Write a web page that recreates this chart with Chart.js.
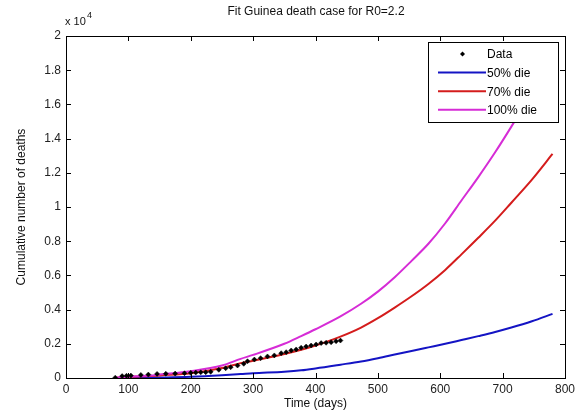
<!DOCTYPE html>
<html lang="en">

<head>
    <meta charset="UTF-8" />
    <title>Fit Guinea death case for R0=2.2</title>
    <script src="https://cdn.jsdelivr.net/npm/chart.js"></script>
    <style>
        body {
            margin: 0;
            background: #fff;
        }

        canvas {
            display: block;
        }
    </style>
</head>

<body>
    <canvas id="fitChart" width="582" height="412"></canvas>

    <script>
        const dataDays = [79, 90, 97, 104, 120, 132, 146, 160, 175, 190, 200, 208, 216, 224, 232, 245, 256, 264, 275, 285,
            291, 302, 312, 323, 334, 345, 353, 361, 369, 377, 385, 393, 401, 409, 417, 425, 433, 440];
        const dataDeaths = [20, 110, 130, 140, 180, 200, 240, 250, 260, 280, 300, 320, 330, 340, 360, 480, 570, 630, 730, 830,
            980, 1080, 1160, 1260, 1320, 1450, 1510, 1610, 1670, 1770, 1840, 1900, 1960, 2040, 2060, 2090, 2150, 2190];

        // model curves
        const curveDays = [80, 100, 135, 150, 200, 250, 280, 300, 350, 377, 400, 440, 473, 500, 527, 554, 581, 608, 634, 661, 688, 714, 747, 780];
        const die50 = [0, 5, 15, 25, 70, 160, 230, 280, 370, 450, 560, 780, 970, 1160, 1370, 1580, 1790, 2000, 2220, 2450, 2690, 2950, 3320, 3750];
        const die70 = [20, 60, 110, 150, 280, 580, 870, 1010, 1400, 1650, 1900, 2420, 2950, 3500, 4120, 4780, 5500, 6320, 7230, 8200, 9200, 10250, 11600, 13100];
        const die100 = [20, 70, 140, 200, 400, 730, 1120, 1350, 2000, 2450, 2850, 3600, 4340, 5050, 5890, 6850, 7850, 9050, 10380, 11750, 13200, 14700, 16700, 18800];

        const xTicks = [0, 100, 200, 300, 400, 500, 600, 700, 800];
        const yTicks = [0, 2000, 4000, 6000, 8000, 10000, 12000, 14000, 16000, 18000, 20000];

        const FONT = '"Liberation Sans", Arial, sans-serif';
        const BLUE = '#1414c4';
        const RED = '#d41c1c';
        const MAGENTA = '#d62cd6';

        const pts = (xs, ys) => xs.map((x, i) => ({ x, y: ys[i] }));

        const legendItems = [
            { label: 'Data', color: '#000', marker: true },
            { label: '50% die', color: BLUE },
            { label: '70% die', color: RED },
            { label: '100% die', color: MAGENTA }
        ];

        // matlab-ish frame: inward ticks on all sides, box, legend, titles
        const framePlugin = {
            id: 'frame',
            afterDatasetsDraw(chart) {
                const { ctx, chartArea: a, scales } = chart;
                const x = scales.x, y = scales.y;
                ctx.save();
                ctx.strokeStyle = '#000';
                ctx.lineWidth = 1;
                ctx.beginPath();
                xTicks.forEach(v => {
                    const px = Math.round(x.getPixelForValue(v)) + 0.5;
                    ctx.moveTo(px, a.bottom); ctx.lineTo(px, a.bottom - 5);
                    ctx.moveTo(px, a.top); ctx.lineTo(px, a.top + 5);
                });
                yTicks.forEach(v => {
                    const py = Math.round(y.getPixelForValue(v)) + 0.5;
                    ctx.moveTo(a.left, py); ctx.lineTo(a.left + 5, py);
                    ctx.moveTo(a.right, py); ctx.lineTo(a.right - 5, py);
                });
                ctx.stroke();
                ctx.strokeRect(Math.round(a.left) + 0.5, Math.round(a.top) + 0.5,
                    Math.round(a.right - a.left), Math.round(a.bottom - a.top));

                // legend box (covers the magenta tail, as in the original)
                const lx = 428, ly = 42, lw = 130, lh = 80;
                ctx.fillStyle = '#fff';
                ctx.fillRect(lx, ly, lw, lh);
                ctx.strokeRect(lx + 0.5, ly + 0.5, lw, lh);
                ctx.font = '12px ' + FONT;
                ctx.textBaseline = 'middle';
                ctx.textAlign = 'left';
                legendItems.forEach((it, i) => {
                    const ry = 54 + i * 18.6;
                    if (it.marker) {
                        ctx.fillStyle = '#000';
                        ctx.beginPath();
                        ctx.moveTo(462.5, ry - 2.5); ctx.lineTo(465, ry);
                        ctx.lineTo(462.5, ry + 2.5); ctx.lineTo(460, ry);
                        ctx.closePath(); ctx.fill();
                    } else {
                        ctx.strokeStyle = it.color;
                        ctx.lineWidth = 2;
                        ctx.beginPath();
                        ctx.moveTo(438, ry); ctx.lineTo(486, ry);
                        ctx.stroke();
                    }
                    ctx.fillStyle = '#000';
                    ctx.fillText(it.label, 487, ry + 1);
                });
                ctx.restore();
            },
            afterDraw(chart) {
                const { ctx, chartArea: a } = chart;
                ctx.save();
                ctx.fillStyle = '#111';
                ctx.textBaseline = 'middle';
                ctx.font = '12px ' + FONT;
                ctx.textAlign = 'center';
                ctx.fillText('Fit Guinea death case for R0=2.2', 316, 12);
                ctx.fillText('Time (days)', (a.left + a.right) / 2, 404);
                // exponent label
                ctx.textAlign = 'left';
                ctx.font = '11px ' + FONT;
                ctx.fillText('x 10', 65, 22);
                ctx.font = '9px ' + FONT;
                ctx.fillText('4', 87, 16);
                // y title
                ctx.font = '12px ' + FONT;
                ctx.translate(22, (a.top + a.bottom) / 2);
                ctx.rotate(-Math.PI / 2);
                ctx.textAlign = 'center';
                ctx.fillText('Cumulative number of deaths', 0, 0);
                ctx.restore();
            }
        };

        const lineSet = (label, ys, color, order) => ({
            label,
            data: pts(curveDays, ys),
            borderColor: color,
            backgroundColor: color,
            borderWidth: 2,
            pointRadius: 0,
            cubicInterpolationMode: 'monotone',
            order
        });

        new Chart(document.getElementById('fitChart'), {
            type: 'line',
            data: {
                datasets: [
                    {
                        label: 'Data',
                        data: pts(dataDays, dataDeaths),
                        showLine: false,
                        pointStyle: 'rectRot',
                        pointRadius: 2.5,
                        pointBackgroundColor: '#000',
                        pointBorderColor: '#000',
                        pointBorderWidth: 0.5,
                        order: 0
                    },
                    lineSet('50% die', die50, BLUE, 3),
                    lineSet('70% die', die70, RED, 2),
                    lineSet('100% die', die100, MAGENTA, 1)
                ]
            },
            options: {
                responsive: false,
                animation: false,
                layout: { padding: { top: 36, right: 17, left: 0, bottom: 0 } },
                plugins: {
                    legend: { display: false },
                    title: { display: false },
                    tooltip: { enabled: false }
                },
                scales: {
                    x: {
                        type: 'linear',
                        min: 0,
                        max: 800,
                        afterBuildTicks: s => { s.ticks = xTicks.map(v => ({ value: v })); },
                        afterFit: s => { s.height = 34; },
                        grid: { display: false, drawTicks: false },
                        border: { display: false },
                        ticks: {
                            padding: 4,
                            maxRotation: 0,
                            color: '#222',
                            font: { family: FONT, size: 12 }
                        }
                    },
                    y: {
                        min: 0,
                        max: 20000,
                        afterBuildTicks: s => { s.ticks = yTicks.map(v => ({ value: v })); },
                        afterFit: s => { s.width = 66; },
                        grid: { display: false, drawTicks: false },
                        border: { display: false },
                        ticks: {
                            padding: 5,
                            color: '#222',
                            font: { family: FONT, size: 12 },
                            callback: v => String(Math.round(v / 1000) / 10)
                        }
                    }
                }
            },
            plugins: [framePlugin]
        });
    </script>
</body>

</html>
